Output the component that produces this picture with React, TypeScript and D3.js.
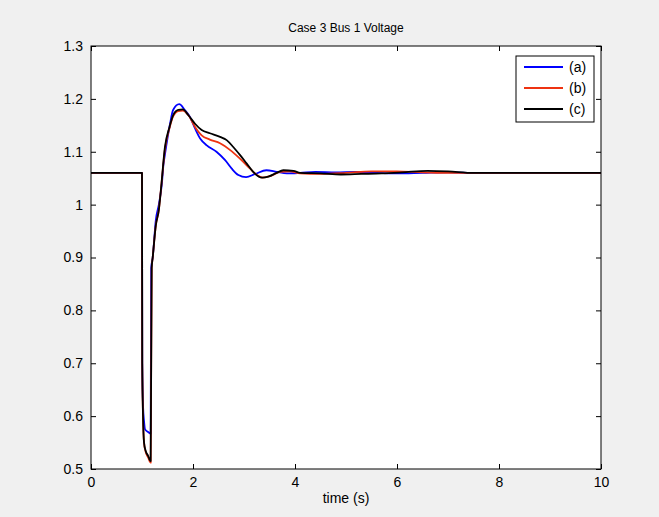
import React, { useEffect, useRef } from "react";
import * as d3 from "d3";

// series (a)
const timeA = [0, 1.0, 1.005, 1.02, 1.04, 1.06, 1.12, 1.17, 1.18, 1.21, 1.27, 1.33, 1.39, 1.42, 1.45, 1.55, 1.61, 1.73, 1.84, 1.94, 2.04, 2.14, 2.27, 2.46, 2.63, 2.76, 2.89, 3.04, 3.22, 3.44, 3.64, 3.84, 4.1, 4.4, 4.8, 5.2, 5.6, 6.0, 6.5, 7.0, 7.5, 10];
const voltA = [1.06, 1.06, 0.7, 0.62, 0.59, 0.575, 0.57, 0.567, 0.88, 0.9, 0.97, 1.0, 1.04, 1.075, 1.095, 1.153, 1.179, 1.19, 1.179, 1.166, 1.144, 1.125, 1.112, 1.1, 1.084, 1.068, 1.056, 1.052, 1.058, 1.065, 1.062, 1.059, 1.06, 1.062, 1.061, 1.062, 1.06, 1.059, 1.06, 1.061, 1.06, 1.06];

// series (b)
const timeB = [0, 1.0, 1.005, 1.02, 1.04, 1.07, 1.12, 1.17, 1.19, 1.21, 1.27, 1.33, 1.37, 1.45, 1.54, 1.61, 1.71, 1.8, 1.91, 2.04, 2.17, 2.33, 2.53, 2.73, 2.92, 3.12, 3.25, 3.37, 3.54, 3.71, 3.9, 4.1, 4.5, 5.0, 5.5, 6.0, 6.5, 7.0, 7.5, 10];
const voltB = [1.06, 1.06, 0.7, 0.6, 0.55, 0.533, 0.522, 0.512, 0.88, 0.9, 0.96, 0.99, 1.027, 1.105, 1.145, 1.167, 1.177, 1.178, 1.169, 1.147, 1.131, 1.123, 1.116, 1.103, 1.087, 1.068, 1.056, 1.051, 1.055, 1.062, 1.063, 1.059, 1.058, 1.06, 1.063, 1.063, 1.061, 1.06, 1.06, 1.06];

// series (c)
const timeC = [0, 1.0, 1.005, 1.02, 1.04, 1.07, 1.12, 1.17, 1.19, 1.21, 1.27, 1.33, 1.37, 1.45, 1.54, 1.61, 1.71, 1.8, 1.91, 2.04, 2.17, 2.33, 2.53, 2.66, 2.79, 2.92, 3.05, 3.18, 3.35, 3.48, 3.64, 3.77, 3.97, 4.1, 4.5, 4.9, 5.3, 5.7, 6.1, 6.6, 7.0, 7.5, 10];
const voltC = [1.06, 1.06, 0.7, 0.6, 0.55, 0.535, 0.525, 0.515, 0.88, 0.9, 0.96, 0.99, 1.027, 1.109, 1.147, 1.169, 1.179, 1.18, 1.169, 1.153, 1.141, 1.135, 1.128, 1.122, 1.109, 1.094, 1.078, 1.062, 1.051, 1.053, 1.06, 1.065, 1.064, 1.06, 1.059, 1.057, 1.058, 1.059, 1.061, 1.064, 1.063, 1.06, 1.06];

const seriesNames = ["(a)", "(b)", "(c)"];
const seriesColors = ["#0000ff", "#ee3311", "#000000"];

const xTicks = [0, 2, 4, 6, 8, 10];
const yTicks = [0.5, 0.6, 0.7, 0.8, 0.9, 1, 1.1, 1.2, 1.3];

const title = "Case 3 Bus 1 Voltage";
const xLabel = "time (s)";

export default function App() {
  const ref = useRef<SVGSVGElement>(null);

  useEffect(() => {
    var width = 659;
    var height = 517;
    var margin = { left: 91, top: 46, right: 58, bottom: 48 };
    var innerWidth = width - margin.left - margin.right;
    var innerHeight = height - margin.top - margin.bottom;
    var font = "'Liberation Sans', Arial, sans-serif";

    var svg = d3.select(ref.current);
    svg.selectAll("*").remove();

    svg.append("rect").attr("width", width).attr("height", height).attr("fill", "#f0f0f0");

    var g = svg
      .append("g")
      .attr("transform", "translate(" + margin.left + "," + margin.top + ")");

    var xScale = d3.scaleLinear().domain([0, 10]).range([0, innerWidth]);
    var yScale = d3.scaleLinear().domain([0.5, 1.3]).range([innerHeight, 0]);

    g.append("rect")
      .attr("width", innerWidth)
      .attr("height", innerHeight)
      .attr("fill", "#ffffff");

    // clip so lines stay inside the axes
    svg
      .append("clipPath")
      .attr("id", "plotclip")
      .append("rect")
      .attr("width", innerWidth)
      .attr("height", innerHeight);

    var line = d3
      .line<number>()
      .x(function (d) { return xScale(d[0]); })
      .y(function (d) { return yScale(d[1]); })
      .curve(d3.curveMonotoneX);

    var series = [
      d3.zip(timeA, voltA),
      d3.zip(timeB, voltB),
      d3.zip(timeC, voltC),
    ];

    var lines = g.append("g").attr("clip-path", "url(#plotclip)");
    series.forEach(function (s, i) {
      lines
        .append("path")
        .attr("d", line(s as any))
        .attr("fill", "none")
        .attr("stroke", seriesColors[i])
        .attr("stroke-width", 1.8)
        .attr("stroke-linejoin", "round");
    });

    // axes, MATLAB style: ticks inward on all four sides
    var tickLen = 5;
    var bottom = d3.axisBottom(xScale).tickValues(xTicks).tickSizeInner(-tickLen).tickSizeOuter(0).tickPadding(8).tickFormat(d3.format("d") as any);
    var top = d3.axisTop(xScale).tickValues(xTicks).tickSizeInner(-tickLen).tickSizeOuter(0).tickFormat(() => "");
    var left = d3.axisLeft(yScale).tickValues(yTicks).tickSizeInner(-tickLen).tickSizeOuter(0).tickPadding(8).tickFormat(d3.format("~g") as any);
    var right = d3.axisRight(yScale).tickValues(yTicks).tickSizeInner(-tickLen).tickSizeOuter(0).tickFormat(() => "");

    var axes = [
      g.append("g").attr("transform", "translate(0," + innerHeight + ")").call(bottom),
      g.append("g").call(top),
      g.append("g").call(left),
      g.append("g").attr("transform", "translate(" + innerWidth + ",0)").call(right),
    ];
    axes.forEach(function (a) {
      a.select(".domain").remove();
      a.selectAll("line").attr("stroke", "#000");
      a.selectAll("text").attr("fill", "#000").style("font-family", font).style("font-size", "14px");
    });

    g.append("rect")
      .attr("width", innerWidth)
      .attr("height", innerHeight)
      .attr("fill", "none")
      .attr("stroke", "#000")
      .attr("stroke-width", 1);

    svg
      .append("text")
      .attr("x", margin.left + innerWidth / 2)
      .attr("y", 32)
      .attr("text-anchor", "middle")
      .style("font-family", font)
      .style("font-size", "12px")
      .text(title);

    svg
      .append("text")
      .attr("x", margin.left + innerWidth / 2)
      .attr("y", 503)
      .attr("text-anchor", "middle")
      .style("font-family", font)
      .style("font-size", "14px")
      .text(xLabel);

    // legend
    var lg = svg.append("g").attr("transform", "translate(516,56)");
    lg.append("rect")
      .attr("width", 78)
      .attr("height", 66)
      .attr("fill", "#ffffff")
      .attr("stroke", "#000");
    seriesNames.forEach(function (name, i) {
      var yy = 11 + i * 21;
      lg.append("line")
        .attr("x1", 8)
        .attr("x2", 47)
        .attr("y1", yy)
        .attr("y2", yy)
        .attr("stroke", seriesColors[i])
        .attr("stroke-width", 1.8);
      lg.append("text")
        .attr("x", 53)
        .attr("y", yy + 5)
        .style("font-family", font)
        .style("font-size", "14px")
        .text(name);
    });
  }, []);

  return (
    <svg
      ref={ref}
      width={659}
      height={517}
      style={{ position: "absolute", left: 0, top: 0, display: "block" }}
    />
  );
}
